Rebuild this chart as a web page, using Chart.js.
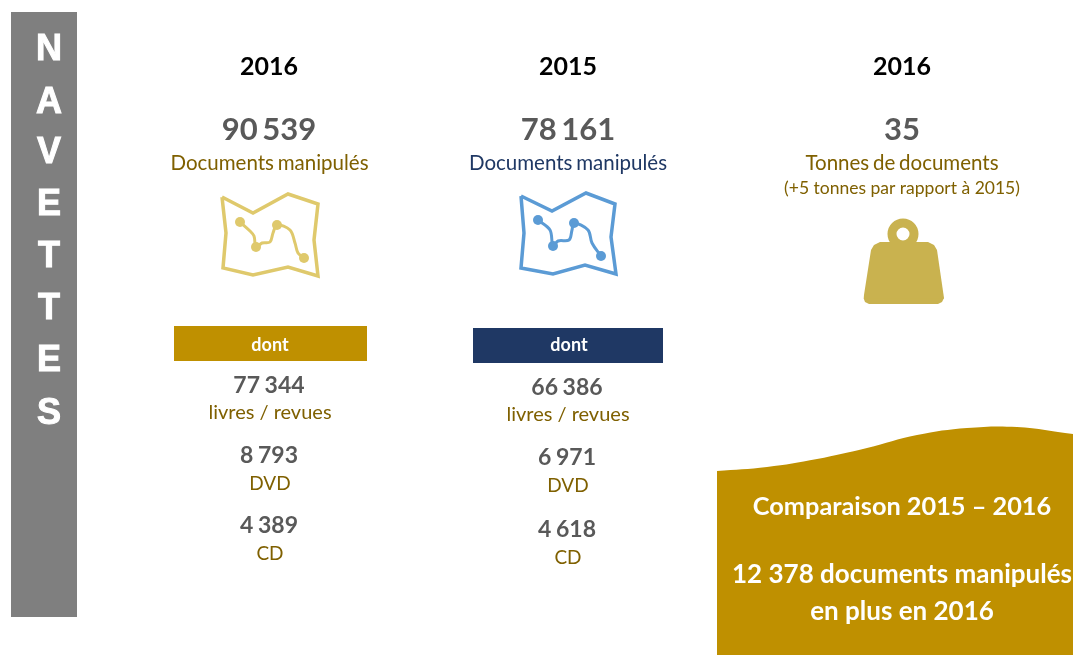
<!DOCTYPE html>
<html lang="fr">
<head>
<meta charset="utf-8">
<title>Navettes</title>
<script src="https://cdn.jsdelivr.net/npm/chart.js@4"></script>
<style>
    html, body { margin: 0; padding: 0; background: #fff; }
    canvas { display: block; filter: blur(0.4px); }
</style>
</head>
<body>
<canvas id="navettes" width="1073" height="655"></canvas>
<script>
// values
const sideLetters = ['N', 'A', 'V', 'E', 'T', 'T', 'E', 'S']
const years = ['2016', '2015', '2016']
const totals = ['90 539', '78 161', '35']
const totalLabels = ['Documents manipulés', 'Documents manipulés', 'Tonnes de documents']
const tonnesNote = '(+5 tonnes par rapport à 2015)'
const detailLabels = ['livres / revues', 'DVD', 'CD']
const details2016 = ['77 344', '8 793', '4 389']
const details2015 = ['66 386', '6 971', '4 618']
const comparison = ['Comparaison 2015 – 2016', '12 378 documents manipulés', 'en plus en 2016']

// shapes, in the page units of the two axes
const sideBand = [{ x: 11, y: 12 }, { x: 77, y: 12 }]
const band2016 = [{ x: 174, y: 326 }, { x: 367, y: 326 }]
const band2015 = [{ x: 473, y: 328 }, { x: 663, y: 328 }]
const panelTop = [
    { x: 717, y: 471 }, { x: 767, y: 467 }, { x: 817, y: 459 }, { x: 867, y: 448 },
    { x: 917, y: 435 }, { x: 967, y: 428 }, { x: 1017, y: 427 }, { x: 1073, y: 434 },
]
const map2016 = [
    { x: 222, y: 197 }, { x: 253, y: 213 }, { x: 288, y: 194 }, { x: 318, y: 204 }, { x: 314, y: 240 },
    { x: 318, y: 276 }, { x: 288, y: 267 }, { x: 253, y: 275 }, { x: 223, y: 268 }, { x: 226, y: 233 }, { x: 222, y: 197 },
]
const route2016 = [
    { x: 240, y: 222 }, { x: 250, y: 231 }, { x: 254, y: 236 }, { x: 256, y: 247 }, { x: 262, y: 243 }, { x: 270, y: 242 },
    { x: 273, y: 233 }, { x: 277, y: 225 }, { x: 290, y: 230 }, { x: 295, y: 243 }, { x: 298, y: 253 }, { x: 304, y: 258 },
]
const stops2016 = [{ x: 240, y: 222 }, { x: 256, y: 247 }, { x: 277, y: 225 }, { x: 304, y: 258 }]
const map2015 = [
    { x: 521, y: 196 }, { x: 552, y: 211 }, { x: 586, y: 193 }, { x: 615, y: 204 }, { x: 611, y: 237 },
    { x: 616, y: 274 }, { x: 585, y: 265 }, { x: 553, y: 274 }, { x: 521, y: 268 }, { x: 524, y: 233 }, { x: 521, y: 196 },
]
const route2015 = [
    { x: 538, y: 220 }, { x: 550, y: 230 }, { x: 553, y: 246 }, { x: 558, y: 241 }, { x: 569, y: 240 },
    { x: 572, y: 230 }, { x: 574, y: 223 }, { x: 588, y: 230 }, { x: 592, y: 243 }, { x: 601, y: 256 },
]
const stops2015 = [{ x: 538, y: 220 }, { x: 553, y: 246 }, { x: 574, y: 223 }, { x: 601, y: 256 }]
const weightUpper = [
    { x: 863.5, y: 298 }, { x: 871, y: 250 }, { x: 874, y: 245 }, { x: 880, y: 242 },
    { x: 928, y: 242 }, { x: 934, y: 245 }, { x: 937, y: 250 }, { x: 944, y: 298 },
]
const weightLower = [
    { x: 863.5, y: 298 }, { x: 865, y: 302 }, { x: 869, y: 304 }, { x: 938, y: 304 }, { x: 942, y: 302 }, { x: 944, y: 298 },
]
const weightRing = [{ x: 903, y: 234 }]

const GOLD = '#bf9000'
const NAVY = '#1f3864'
const GREY = '#7f7f7f'
const TEXT_GREY = '#595959'
const TEXT_GOLD = '#7f6000'
const MAP_GOLD = '#dfc96c'
const MAP_BLUE = '#5b9bd5'
const WEIGHT = '#c9b24f'

function area(points, color, bottom, tension) {
    return {
        data: points,
        showLine: true,
        borderWidth: 0,
        pointRadius: 0,
        backgroundColor: color,
        tension: tension || 0,
        fill: { value: bottom },
    }
}

function stroke(points, color, width, tension) {
    return {
        data: points,
        showLine: true,
        borderColor: color,
        borderWidth: width,
        tension: tension,
        pointRadius: 0,
        fill: false,
    }
}

function dots(points, color, radius) {
    return {
        data: points,
        showLine: false,
        pointRadius: radius,
        pointBorderWidth: 0,
        pointBackgroundColor: color,
    }
}

const textRows = []

function addText(text, x, y, font, color, wordGap, outline) {
    textRows.push({ text, x, y, font, color, wordGap: wordGap || '0px', outline: outline || 0 })
}

const lato = 'Lato, sans-serif'
const columns = [269, 568, 902]
years.forEach((year, i) => {
    addText(year, columns[i], 67, 'bold 25px ' + lato, '#000')
    addText(totals[i], columns[i], 130, 'bold 31px ' + lato, TEXT_GREY, '-3px')
})
addText(totalLabels[0], 269.5, 163, '20.5px ' + lato, TEXT_GOLD, '-1.5px')
addText(totalLabels[1], 568, 163, '20.5px ' + lato, NAVY, '-1.5px')
addText(totalLabels[2], 902, 163, '20.5px ' + lato, TEXT_GOLD, '-1.5px')
addText(tonnesNote, 902, 188, '17.5px ' + lato, TEXT_GOLD)

addText('dont', 270, 345, 'bold 18px ' + lato, '#fff')
addText('dont', 569, 345, 'bold 18px ' + lato, '#fff')

const detailY2016 = [[386, 413], [456, 484], [526, 554]]
const detailY2015 = [[388, 415], [458, 486], [530, 558]]
detailLabels.forEach((label, i) => {
    addText(details2016[i], 269, detailY2016[i][0], 'bold 23px ' + lato, TEXT_GREY, '-1px')
    addText(label, 270, detailY2016[i][1], (i ? 19 : 20) + 'px ' + lato, TEXT_GOLD)
    addText(details2015[i], 567, detailY2015[i][0], 'bold 23px ' + lato, TEXT_GREY, '-1px')
    addText(label, 568, detailY2015[i][1], (i ? 19 : 20) + 'px ' + lato, TEXT_GOLD)
})

addText(comparison[0], 902, 507, 'bold 25.3px ' + lato, '#fff')
addText(comparison[1], 902, 575, 'bold 26px ' + lato, '#fff')
addText(comparison[2], 902, 612, 'bold 26px ' + lato, '#fff')

const sideY = [50, 103, 153, 205, 257, 309, 361, 414]
sideLetters.forEach((letter, i) => {
    addText(letter, 49, sideY[i], 'bold 36px "Liberation Sans", sans-serif', '#fff', '0px', 1)
})

const textPlugin = {
    id: 'textRows',
    afterDatasetsDraw(chart) {
        const ctx = chart.ctx
        ctx.save()
        ctx.textAlign = 'center'
        ctx.textBaseline = 'middle'
        for (const row of textRows) {
            const x = chart.scales.x.getPixelForValue(row.x)
            const y = chart.scales.y.getPixelForValue(row.y)
            ctx.font = row.font
            ctx.wordSpacing = row.wordGap
            ctx.fillStyle = row.color
            ctx.fillText(row.text, x, y)
            if (row.outline) {
                ctx.strokeStyle = row.color
                ctx.lineWidth = row.outline
                ctx.strokeText(row.text, x, y)
            }
        }
        ctx.restore()
    },
}

new Chart('navettes', {
    type: 'scatter',
    data: {
        datasets: [
            area(sideBand, GREY, 617),
            area(band2016, GOLD, 361),
            area(band2015, NAVY, 363),
            area(panelTop, GOLD, 655, 0.4),
            stroke(map2016, MAP_GOLD, 3.5, 0),
            stroke(route2016, MAP_GOLD, 3, 0.35),
            dots(stops2016, MAP_GOLD, 5),
            stroke(map2015, MAP_BLUE, 3.5, 0),
            stroke(route2015, MAP_BLUE, 3, 0.35),
            dots(stops2015, MAP_BLUE, 5),
            area(weightUpper, WEIGHT, 298.5),
            area(weightLower, WEIGHT, 298),
            {
                data: weightRing,
                showLine: false,
                pointRadius: 11,
                pointBorderWidth: 9,
                pointBorderColor: WEIGHT,
                pointBackgroundColor: '#fff',
            },
        ],
    },
    options: {
        responsive: false,
        animation: false,
        layout: { padding: 0, autoPadding: false },
        plugins: {
            legend: { display: false },
            title: { display: false },
            tooltip: { enabled: false },
        },
        scales: {
            x: { type: 'linear', display: false, min: 0, max: 1073 },
            y: { type: 'linear', display: false, min: 0, max: 655, reverse: true },
        },
    },
    plugins: [textPlugin],
})
</script>
</body>
</html>
